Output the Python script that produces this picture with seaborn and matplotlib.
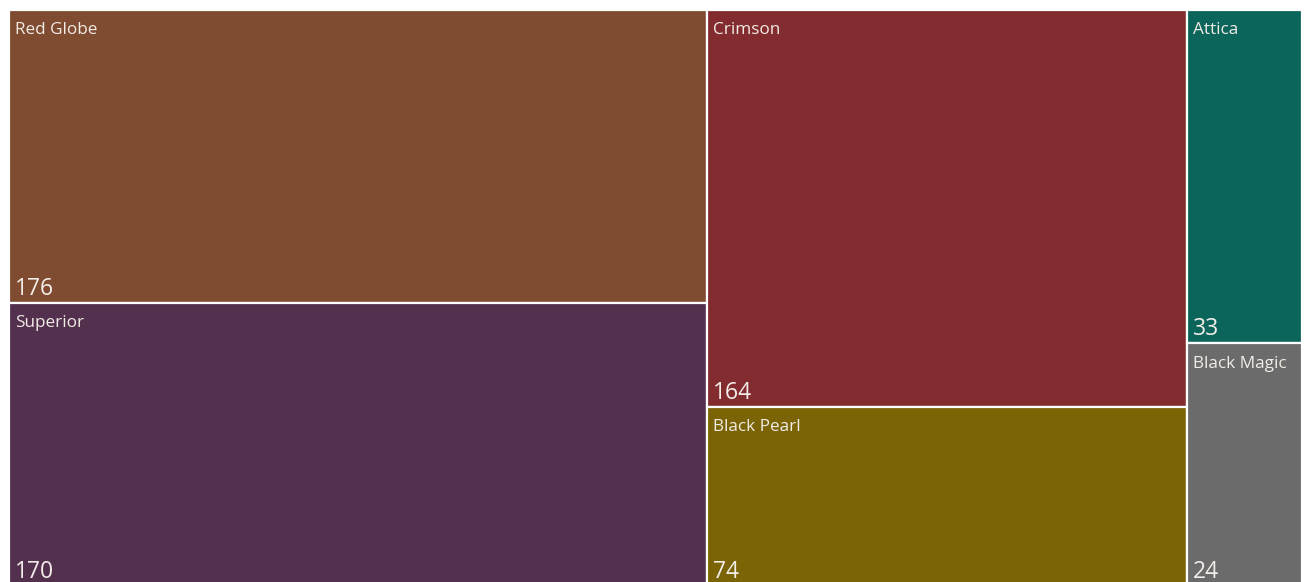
import matplotlib
matplotlib.use("Agg")
import matplotlib.pyplot as plt
import seaborn as sns
import numpy as np

# Grape varieties, grouped into the three treemap columns
varieties = ["Red Globe", "Superior", "Crimson", "Black Pearl", "Attica", "Black Magic"]
counts = [176, 170, 164, 74, 33, 24]
column_of = [0, 0, 1, 1, 2, 2]
colors = ["#7f4b31", "#53304d", "#832c2f", "#7a6406", "#0b655a", "#6b6b6b"]

sns.set_theme(style="white")
plt.rcParams["font.family"] = ["Open Sans", "DejaVu Sans"]

W, H = 1306, 582
fig = plt.figure(figsize=(W / 100, H / 100), dpi=100)
fig.patch.set_facecolor("white")

# plot area in pixels (the lower edge runs slightly past the canvas)
left_px, right_px, top_px, bottom_px = 9, 1302, 10, 586
ax = fig.add_axes([left_px / W, 1 - bottom_px / H,
                   (right_px - left_px) / W, (bottom_px - top_px) / H])

total = float(sum(counts))
n_cols = max(column_of) + 1
col_sums = [sum(c for c, k in zip(counts, column_of) if k == j) for j in range(n_cols)]
col_start = np.concatenate([[0], np.cumsum(col_sums)[:-1]])

# slice-and-dice layout: each column width = its sum, rows split by share
y_used = [0.0] * n_cols
for name, val, col, color in zip(varieties, counts, column_of, colors):
    x0 = col_start[col]
    w = col_sums[col]
    h = val / col_sums[col]
    y0 = y_used[col]
    y_used[col] += h
    ax.bar(x0, h, width=w, bottom=y0, align="edge", color=color,
           edgecolor="white", linewidth=1.6)
    ax.annotate(name, xy=(x0, y0), xytext=(4.5, -9), textcoords="offset points",
                ha="left", va="top", color="#f2ece6", fontsize=12.3)
    ax.annotate(str(val), xy=(x0, y0 + h), xytext=(4.5, 1.5), textcoords="offset points",
                ha="left", va="bottom", color="#f4eeea", fontsize=16.5)

ax.set_xlim(0, total)
ax.set_ylim(1, 0)
ax.set_axis_off()

fig.savefig("out.png", dpi=100, facecolor="white")
